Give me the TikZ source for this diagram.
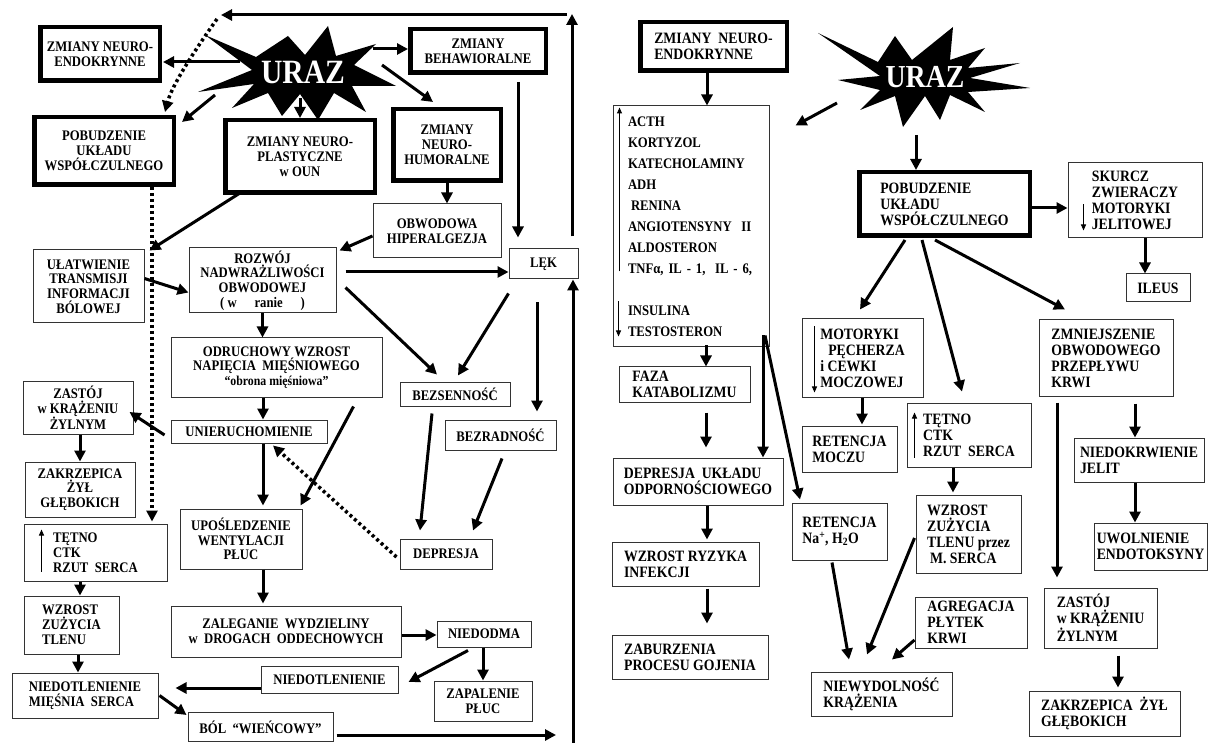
\documentclass[tikz,border=0pt]{standalone}
\usepackage{fontspec}
\setmainfont[FakeStretch=0.87]{Liberation Serif}
\usetikzlibrary{arrows.meta,calc}

\tikzset{
  box/.style={draw=black!80, line width=1pt, fill=white, inner sep=2pt, align=center,
    font=\fontsize{14.6}{14.8}\selectfont\bfseries},
  rbox/.style={box, align=left, font=\fontsize{15.8}{16}\selectfont\bfseries},
  heavy/.style={draw=black, line width=4.5pt},
  wh/.style 2 args={minimum width=#1pt, minimum height=#2pt},
  arr/.style={-{Triangle[length=11pt,width=11pt]}, line width=3pt},
  dots/.style={arr, line width=3.5pt, dash pattern=on 3pt off 3pt},
  tiny arr/.style={-{Triangle[length=6pt,width=5pt]}, line width=1pt},
  uraz/.style={text=white, font=\fontsize{34}{34}\selectfont\bfseries},
}

\begin{document}
\begin{tikzpicture}[x=1pt,y=-1pt]
\useasboundingbox (0,0) rectangle (1208,743);

% the two starbursts
\fill (205,35) -- (256,57) -- (288,36) -- (305,55) -- (328,26) -- (336,56) -- (376,44)
  -- (354,65) -- (396,86) -- (352,86) -- (366,112) -- (334,93) -- (318,120) -- (300,94)
  -- (282,116) -- (268,93) -- (232,108) -- (254,84) -- (198,92) -- (252,70) -- cycle;
\fill (818,33) -- (878,62) -- (895,36) -- (912,60) -- (953,27) -- (950,60) -- (985,48)
  -- (968,68) -- (1020,63) -- (970,78) -- (1030,88) -- (968,92) -- (985,112) -- (950,95)
  -- (940,120) -- (925,96) -- (903,127) -- (895,96) -- (860,110) -- (880,90) -- (838,80)
  -- (880,76) -- cycle;
\node[uraz] (urazL) at (303,72) {URAZ};
\node[uraz, font=\fontsize{32}{32}\selectfont\bfseries] (urazR) at (925,77) {URAZ};

% left half
\node[box, heavy, wh={119.5}{53.5}] (neL) at (100,54) {ZMIANY NEURO-\\ENDOKRYNNE};
\node[box, heavy, wh={135.5}{43.5}] (behL) at (478,51) {ZMIANY\\BEHAWIORALNE};
\node[box, heavy, wh={139.5}{67.5}] (symL) at (104,151) {POBUDZENIE\\UKŁADU\\WSPÓŁCZULNEGO};
\node[box, heavy, wh={149.5}{72.5}] (plast) at (300,156.5) {ZMIANY NEURO-\\PLASTYCZNE\\w OUN};
\node[box, heavy, wh={107.5}{71.5}] (humor) at (447,145) {ZMIANY\\NEURO-\\HUMORALNE};
\node[box, wh={128}{54}] (hiper) at (437,231) {OBWODOWA\\HIPERALGEZJA};
\node[box, wh={69}{30}] (lek) at (543.5,264) {LĘK};
\node[box, wh={111}{73}] (ulat) at (88.5,286.5) {UŁATWIENIE\\TRANSMISJI\\INFORMACJI\\BÓLOWEJ};
\node[box, wh={147}{65}] (rozw) at (262.5,280.5) {ROZWÓJ\\NADWRAŻLIWOŚCI\\OBWODOWEJ\\( w \quad ranie \quad )};
\node[box, wh={211}{59}] (odr) at (276.5,367.5) {ODRUCHOWY WZROST\\NAPIĘCIA \ MIĘŚNIOWEGO\\{\fontsize{13.6}{14}\selectfont “obrona mięśniowa”}};
\node[box, wh={156}{23}] (unier) at (249,431.5) {UNIERUCHOMIENIE};
\node[box, wh={110}{52}] (zastL) at (78,408) {ZASTÓJ\\w KRĄŻENIU\\ŻYLNYM};
\node[box, wh={110}{55}] (zakrL) at (80,489.5) {ZAKRZEPICA\\ŻYŁ\\GŁĘBOKICH};
\node[box, wh={110}{23}] (bezs) at (455,394.5) {BEZSENNOŚĆ};
\node[box, wh={111}{30}] (bezr) at (500.5,435) {BEZRADNOŚĆ};
\node[box, wh={92}{30}] (depr) at (446,554) {DEPRESJA};
\node[box, align=left, wh={143}{57}] (tetL) at (95.5,552.5) {TĘTNO\\CTK\\RZUT \ SERCA};
\node[box, wh={122}{60}] (upos) at (241,539) {UPOŚLEDZENIE\\WENTYLACJI\\PŁUC};
\node[box, align=left, wh={95}{58}] (wzrL) at (71.5,625) {WZROST\\ZUŻYCIA\\TLENU};
\node[box, wh={230}{51}] (zaleg) at (286,631.5) {ZALEGANIE \ WYDZIELINY\\w \ DROGACH \ ODDECHOWYCH};
\node[box, wh={94}{26}] (niedo) at (484,634) {NIEDODMA};
\node[box, wh={137}{27}] (niedot) at (329.5,679.5) {NIEDOTLENIENIE};
\node[box, wh={98}{40}] (zapal) at (483,701) {ZAPALENIE\\PŁUC};
\node[box, align=left, wh={146}{45}] (niedMS) at (85,695.5) {NIEDOTLENIENIE\\MIĘŚNIA \ SERCA};
\node[box, wh={145}{29}] (bol) at (260.5,727) {BÓL \ “WIEŃCOWY”};

% right half
\node[rbox, heavy, wh={146.5}{48.5}] (neR) at (713.5,46.5) {ZMIANY \ NEURO-\\ENDOKRYNNE};
\node[box, wh={156}{241}, text width=126pt, align=left,
  font=\fontsize{14.6}{21}\selectfont\bfseries] (horm) at (691,226.5)
  {ACTH\\KORTYZOL\\KATECHOLAMINY\\ADH\\\hspace*{3pt}RENINA\\ANGIOTENSYNY \ II\\ALDOSTERON\\TNFα, IL - 1, \ IL - 6,\\[21pt]INSULINA\\TESTOSTERON};
\node[rbox, wh={131}{35}] (fazaR) at (684.5,384.5) {FAZA\\KATABOLIZMU};
\node[rbox, wh={170}{47}] (deprR) at (698,481.5) {DEPRESJA \ UKŁADU\\ODPORNOŚCIOWEGO};
\node[rbox, wh={147}{44}] (infek) at (685.5,564) {WZROST RYZYKA\\INFEKCJI};
\node[rbox, wh={156}{44}] (gojen) at (690,657) {ZABURZENIA\\PROCESU GOJENIA};
\node[rbox, wh={95}{57}] (retNa) at (839.5,531.5) {RETENCJA\\Na\textsuperscript{+}, H\textsubscript{2}O};
\node[rbox, wh={141}{44}] (niewyd) at (881.5,694) {NIEWYDOLNOŚĆ\\KRĄŻENIA};
\node[rbox, heavy, wh={170.5}{63.5}] (symR) at (944.5,204) {POBUDZENIE\\UKŁADU\\WSPÓŁCZULNEGO};
\node[rbox, wh={134}{75}] (skurcz) at (1135,200.5) {SKURCZ\\ZWIERACZY\\MOTORYKI\\JELITOWEJ};
\node[rbox, wh={64}{28}] (ileus) at (1158,288) {ILEUS};
\node[rbox, wh={121}{78}] (motor) at (862.5,358) {MOTORYKI\\\hspace*{8pt}PĘCHERZA\\i CEWKI\\MOCZOWEJ};
\node[rbox, wh={95}{46}] (retMocz) at (849.5,449) {RETENCJA\\MOCZU};
\node[rbox, wh={124}{64}] (tetR) at (969,435) {TĘTNO\\CTK\\RZUT \ SERCA};
\node[rbox, wh={105}{78}] (wzrR) at (968.5,534) {WZROST\\ZUŻYCIA\\TLENU przez\\\hspace*{3pt}M. SERCA};
\node[rbox, wh={112}{51}] (agreg) at (971,622.5) {AGREGACJA\\PŁYTEK\\KRWI};
\node[rbox, wh={134}{76}] (zmniej) at (1106,358) {ZMNIEJSZENIE\\OBWODOWEGO\\PRZEPŁYWU\\KRWI};
\node[rbox, wh={130}{44}] (niedokr) at (1139,460) {NIEDOKRWIENIE\\JELIT};
\node[rbox, wh={113}{47}] (uwol) at (1150.5,546.5) {UWOLNIENIE\\ENDOTOKSYNY};
\node[rbox, wh={113}{60}] (zastR) at (1100.5,618) {ZASTÓJ\\w KRĄŻENIU\\ŻYLNYM};
\node[rbox, wh={151}{45}] (zakrR) at (1104.5,713.5) {ZAKRZEPICA \ ŻYŁ\\GŁĘBOKICH};

\coordinate (topL) at (221,15);
\coordinate (topR) at (567,15);
\coordinate (upT) at (572,14);
\coordinate (bolEnd) at (556,735);
\coordinate (botR) at (573,743);

% left connectors
\draw[arr] ($(urazL)+(-63,-10)$) -- ($(neL.east)+(1,8)$);
\draw[arr] ($(urazL)+(-88,23)$) -- ($(symL.north east)+(6,7)$);
\draw[arr] ($(urazL)+(70,-23)$) -- ($(behL.west)+(0,-2)$);
\draw[arr] ($(urazL)+(79,-7)$) -- ($(humor.north)+(-14,-5)$);
\draw[arr] ($(urazL)+(-3,26)$) -- (plast.north);
\draw[arr] (topR) -- (topL);
\draw[dots] ($(topL)+(-4,4)$) .. controls (195,50) and (172,85) .. ($(symL.north)+(61,-3)$);
\draw[arr] ($(lek.north)+(28.5,-12)$) -- (upT);
\draw[dots] ($(symL.south)+(48,0)$) -- ($(tetL.north)+(56.5,-2)$);
\draw[arr] ($(plast.south west)+(17,-2)$) -- ($(ulat.north east)+(5,1)$);
\draw[arr] (humor.south) -- (humor.south |- hiper.north);
\draw[arr] ($(hiper.west)+(0,5)$) -- ($(rozw.north east)+(3,3)$);
\draw[arr] ($(behL.south)+(40,7)$) -- ($(lek.north)+(-25.5,-11)$);
\draw[arr] ($(ulat.east)+(0,-8)$) -- ($(rozw.west)+(0,12)$);
\draw[arr] ($(rozw.east)+(9,-8.5)$) -- ($(lek.west)+(0,8)$);
\draw[arr] ($(rozw.east)+(9,7)$) -- ($(bezs.north)+(-18,-8)$);
\draw[arr] ($(lek.south west)+(0,14)$) -- ($(bezs.north)+(3,-7)$);
\draw[arr] ($(lek.south)+(-6.5,23)$) -- ($(bezr.north)+(36.5,-8)$);
\draw[arr] (rozw.south) -- (rozw.south |- odr.north);
\draw[arr] ($(odr.south)+(-13.5,0)$) -- ($(unier.north)+(14,0)$);
\draw[arr] ($(odr.south east)+(-29,9)$) -- ($(upos.north east)+(-2,-3)$);
\draw[arr] ($(unier.west)+(-6,3.5)$) -- ($(zastL.east)+(-4,4)$);
\draw[arr] ($(zastL.south)+(2,0)$) -- (zakrL.north);
\draw[arr] ($(unier.south)+(14,0)$) -- ($(upos.north)+(22,-3)$);
\draw[dots] ($(depr.west)+(-3,3)$) -- ($(unier.south)+(24,2)$);
\draw[arr] ($(bezs.south)+(-23,7)$) -- ($(depr.north)+(-26,-8)$);
\draw[arr] ($(bezr.south)+(1.5,8)$) -- ($(depr.north)+(27,-8)$);
\draw[arr] ($(tetL.south)+(-15.5,0)$) -- ($(wzrL.north)+(8.5,0)$);
\draw[arr] ($(wzrL.south)+(6.5,0)$) -- ($(niedMS.north)+(-7,0)$);
\draw[arr] ($(upos.south)+(22,0)$) -- ($(zaleg.north)+(-23,-2)$);
\draw[arr] ($(zaleg.east)+(0,3.5)$) -- ($(niedo.west)+(0,1)$);
\draw[arr] ($(niedo.south)+(-16,3)$) -- ($(niedot.east)+(10,2.5)$);
\draw[arr] ($(niedo.south)+(-1,0)$) -- (zapal.north);
\draw[arr] ($(niedot.west)+(0,8.5)$) -- ($(niedMS.east)+(17,-7.5)$);
\draw[arr] ($(niedMS.east)+(1,0)$) -- ($(bol.west)+(-1,-12)$);
\draw[arr] ($(bol.east)+(3,8)$) -- (bolEnd);
\draw[arr] (botR) -- ($(lek.south)+(29.5,0)$);

% right connectors
\draw[arr] ($(urazR)+(-88,26)$) -- ($(horm.east)+(26,-101)$);
\draw[arr] ($(neR.south)+(-6.5,0)$) -- ($(horm.north)+(16,0)$);
\draw[arr] ($(horm.south)+(15,-2)$) -- ($(fazaR.north)+(21.5,0)$);
\draw[arr] ($(fazaR.south)+(21.5,10)$) -- ($(deprR.north)+(8,-10)$);
\draw[arr] ($(horm.south)+(72,-12)$) -- ($(deprR.north)+(65,0)$);
\draw[arr] ($(horm.south)+(74,-12)$) -- ($(retNa.north)+(-39.5,-3)$);
\draw[arr] ($(deprR.south)+(9,0)$) -- ($(infek.north)+(21.5,-2)$);
\draw[arr] ($(infek.south)+(21.5,2)$) -- ($(gojen.north)+(17,-11)$);
\draw[arr] ($(retNa.south)+(-7.5,2)$) -- ($(niewyd.north)+(-32.5,-12)$);
\draw[arr] ($(urazR)+(-9,58)$) -- ($(symR.north)+(-28.5,0)$);
\draw[arr] ($(symR.east)+(0,4)$) -- ($(skurcz.west)+(0,7.5)$);
\draw[arr] ($(skurcz.south)+(10,0)$) -- ($(ileus.north)+(-13,0)$);
\draw[arr] ($(symR.south)+(-39.5,2)$) -- ($(motor.north)+(-2.5,-9)$);
\draw[arr] ($(symR.south)+(-22.5,2)$) -- ($(tetR.north)+(-7,-11)$);
\draw[arr] ($(symR.south)+(-9.5,2)$) -- ($(zmniej.north)+(-41,-10)$);
\draw[arr] ($(motor.south)+(-0.5,0)$) -- ($(retMocz.north)+(12.5,-1)$);
\draw[arr] ($(tetR.south)+(-16,0)$) -- ($(wzrR.north)+(-15.5,-2)$);
\draw[arr] ($(wzrR.west)+(-1,4)$) -- ($(niewyd.north)+(-14.5,-17)$);
\draw[arr] ($(agreg.west)+(0,17.5)$) -- ($(niewyd.north)+(10.5,-12)$);
\draw[arr] ($(zmniej.south)+(29,7)$) -- ($(niedokr.north)+(-4,0)$);
\draw[arr] ($(niedokr.south)+(-4,0)$) -- ($(uwol.north)+(-15.5,0)$);
\draw[arr] ($(zmniej.south)+(-49,6)$) -- ($(zastR.north)+(-43.5,-10)$);
\draw[arr] ($(zastR.south)+(17.5,7)$) -- ($(zakrR.north)+(13.5,-3)$);

% small up/down marks inside boxes
\draw[tiny arr] ($(tetL.north west)+(18,48)$) -- ($(tetL.north west)+(18,6)$);
\draw[tiny arr] ($(horm.north west)+(7,166)$) -- ($(horm.north west)+(7,2)$);
\draw[tiny arr] ($(horm.north west)+(6,196)$) -- ($(horm.north west)+(6,231)$);
\draw[tiny arr] ($(skurcz.north west)+(16,42)$) -- ($(skurcz.north west)+(16,68)$);
\draw[tiny arr] ($(motor.north west)+(13,8)$) -- ($(motor.north west)+(13,74)$);
\draw[tiny arr] ($(tetR.north west)+(8,55)$) -- ($(tetR.north west)+(8,10)$);
\end{tikzpicture}
\end{document}
